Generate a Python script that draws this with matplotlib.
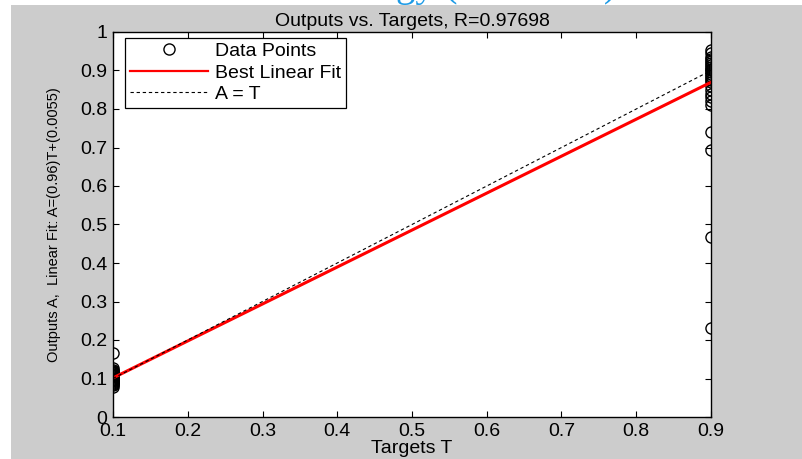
import matplotlib
matplotlib.use("Agg")
import matplotlib.pyplot as plt
from matplotlib.patches import Rectangle

plt.rcParams["font.family"] = ["Liberation Sans", "DejaVu Sans"]

# targets and network outputs
t_low = 0.1
a_low = [0.078, 0.082, 0.085, 0.088, 0.09, 0.093, 0.095, 0.097, 0.1, 0.102,
         0.104, 0.106, 0.108, 0.11, 0.112, 0.114, 0.116, 0.118, 0.12, 0.123,
         0.127, 0.167]
t_high = 0.9
a_high = [0.953, 0.945, 0.935, 0.93, 0.925, 0.92, 0.915, 0.91, 0.905, 0.9,
          0.895, 0.89, 0.885, 0.88, 0.875, 0.87, 0.86, 0.85, 0.84, 0.83,
          0.82, 0.81, 0.741, 0.694, 0.468, 0.232]
fit_slope = 0.96
fit_icpt = 0.0055
r_value = 0.97698
t_range = [0.1, 0.9]

GRAY = "#cccccc"

fig = plt.figure(figsize=(8.03, 4.59), dpi=100, facecolor="white")
# gray MATLAB figure area, white strip of the slide above/left of it
fig.add_artist(Rectangle((11 / 803, 0), 1, (459 - 5) / 459, transform=fig.transFigure,
                         facecolor=GRAY, edgecolor="none", zorder=-2))
# bottom of the slide heading, cut by the screenshot
fig.text(0.631, 1.0 + 4 / 459, "gy (               )", color="#1e9be6", fontsize=28,
         family="Liberation Serif", ha="center", va="baseline")

ax = fig.add_axes([113 / 803, 42 / 459, 598 / 803, 385 / 459])
ax.set_facecolor("white")

T = [t_low] * len(a_low) + [t_high] * len(a_high)
A = a_low + a_high
ax.plot(T, A, "o", mfc="none", mec="black", ms=8, mew=1.0, label="Data Points")
fit = [fit_slope * t + fit_icpt for t in t_range]
ax.plot(t_range, fit, "-", color="red", lw=2.2, label="Best Linear Fit")
ax.plot(t_range, t_range, "--", color="black", lw=0.8, dashes=(3, 2.5), label="A = T")

ax.set_xlim(0.1, 0.9)
ax.set_ylim(0, 1)
ax.set_xticks([0.1, 0.2, 0.3, 0.4, 0.5, 0.6, 0.7, 0.8, 0.9])
ax.set_yticks([i / 10 for i in range(11)])
ax.set_yticklabels(["0", "0.1", "0.2", "0.3", "0.4", "0.5", "0.6", "0.7", "0.8", "0.9", "1"])
ax.tick_params(direction="in", top=True, right=True, length=4, width=0.8,
               labelsize=14, pad=4)
for s in ax.spines.values():
    s.set_linewidth(1.0)

ax.set_title(f"Outputs vs. Targets, R={r_value}", fontsize=14, pad=4)
ax.set_xlabel("Targets T", fontsize=14, labelpad=0)
ax.set_ylabel(f"Outputs A,  Linear Fit: A=({fit_slope})T+({fit_icpt})", fontsize=10.5,
              labelpad=14)

leg = ax.legend(loc="upper left", bbox_to_anchor=(0.02, 0.985), fontsize=14,
                frameon=True, fancybox=False, edgecolor="black", framealpha=1,
                handlelength=4.0, borderpad=0.25, labelspacing=0.2, handletextpad=0.4,
                borderaxespad=0)
leg.get_frame().set_linewidth(0.9)
leg.get_lines()[1].set_linewidth(1.6)

fig.savefig("out.png", dpi=100, facecolor=fig.get_facecolor())
